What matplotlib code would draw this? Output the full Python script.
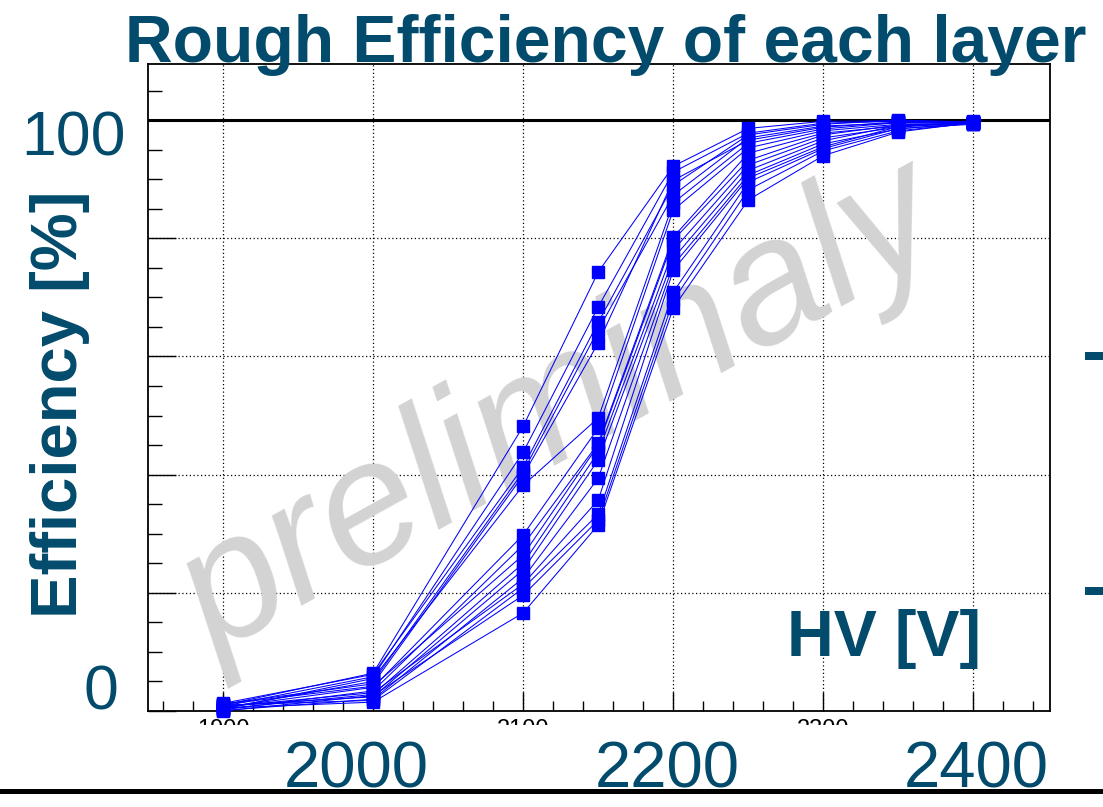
import matplotlib.pyplot as plt
from matplotlib.patches import Rectangle
from matplotlib.lines import Line2D
from matplotlib.ticker import MultipleLocator
from matplotlib.transforms import blended_transform_factory, offset_copy

plt.rcParams['font.family'] = ['Liberation Sans', 'DejaVu Sans']

W, H = 1103, 807
teal = '#034b6c'

# HV scan points [V]
hv = [1900, 2000, 2100, 2150, 2200, 2250, 2300, 2350, 2400]

# efficiency [%] of each layer at the HV points above
layer_eff = [
    [1.0, 6.4, 48.2, 74.3, 92.2, 98.6, 99.8, 99.9, 99.6],
    [0.8, 5.8, 43.8, 68.4, 91.2, 97.8, 99.5, 99.8, 99.5],
    [1.3, 6.2, 41.3, 65.8, 89.0, 97.5, 99.3, 100.0, 99.7],
    [0.5, 5.0, 40.5, 64.5, 87.3, 97.0, 99.0, 99.5, 99.6],
    [1.2, 4.6, 39.9, 62.3, 89.8, 96.6, 98.8, 99.7, 99.8],
    [0.3, 5.5, 38.2, 49.6, 86.0, 96.1, 98.5, 99.6, 99.5],
    [0.6, 4.0, 29.8, 47.9, 84.8, 95.3, 98.2, 99.3, 99.4],
    [0.2, 3.4, 28.1, 45.3, 80.2, 94.4, 97.8, 99.0, 99.6],
    [1.1, 4.2, 26.4, 45.0, 79.7, 93.2, 97.5, 99.2, 99.5],
    [0.4, 2.8, 25.0, 43.8, 78.0, 92.4, 97.0, 98.8, 99.7],
    [0.9, 2.4, 23.9, 42.5, 76.6, 91.5, 96.5, 99.1, 99.4],
    [0.1, 2.0, 22.5, 39.4, 75.5, 90.7, 96.0, 98.5, 99.6],
    [0.7, 3.1, 21.5, 35.7, 74.6, 90.2, 95.5, 98.9, 99.5],
    [1.0, 1.8, 20.8, 33.3, 70.9, 89.5, 95.2, 98.6, 99.3],
    [0.0, 2.6, 19.6, 32.3, 69.5, 88.2, 94.8, 98.2, 99.5],
    [0.5, 1.5, 16.6, 31.5, 68.2, 86.5, 94.0, 98.0, 99.6],
]

x_major = [1900, 2000, 2100, 2200, 2300, 2400]
x_labels = ['1900', '', '2100', '', '2300', '']
big_x = ['2000', '2200', '2400']


def fx(px):
    return px / W


def fy(py):
    return 1 - py / H


fig = plt.figure(figsize=(W / 100, H / 100), dpi=100)
ax = fig.add_axes([fx(148), fy(711), (1050 - 148) / W, (711 - 64) / H])

ax.set_xlim(1850, 2451)
ax.set_ylim(0, 109.5)

ax.set_xticks(x_major)
ax.set_xticklabels(x_labels)
ax.xaxis.set_minor_locator(MultipleLocator(20))
ax.set_yticks([0, 20, 40, 60, 80, 100])
ax.yaxis.set_minor_locator(MultipleLocator(5))
ax.set_yticklabels([])
ax.tick_params(which='both', direction='in', top=False, right=False, width=1.0)
ax.tick_params(axis='x', which='major', length=14, labelsize=17, pad=5.5)
ax.tick_params(axis='x', which='minor', length=7)
ax.tick_params(axis='y', which='major', length=20)
ax.tick_params(axis='y', which='minor', length=10)
for s in ax.spines.values():
    s.set_linewidth(1.3)

ax.set_axisbelow(True)
ax.grid(True, which='major', color='black', linestyle=(0, (1, 2)), lw=0.9)

ax.axhline(100, color='black', lw=2.2, zorder=1.5)

# watermark
ax.text(0.458, 0.462, 'preliminaly', transform=ax.transAxes, fontsize=127,
        style='italic', color='#d3d3d3', rotation=29, ha='center',
        va='center', zorder=1)

for eff in layer_eff:
    ax.plot(hv, eff, '-s', color='blue', lw=0.75, ms=8, mew=1,
            zorder=3, clip_on=False)

# slide overlay: white strip hiding the lower half of the ROOT x labels
fig.add_artist(Rectangle((0, 0), 1, fy(725), transform=fig.transFigure,
                         facecolor='white', edgecolor='none', zorder=5))
fig.add_artist(Line2D([0, 1], [fy(790.8), fy(790.8)], transform=fig.transFigure,
                      color='black', lw=3.6, zorder=6))
for yy in [352, 587]:
    fig.add_artist(Rectangle((fx(1085), fy(yy + 8)), fx(18), 8 / H,
                             transform=fig.transFigure, facecolor=teal,
                             edgecolor='none', zorder=6))

fig.text(fx(125), fy(62), 'Rough Efficiency of each layer', fontsize=47.5,
         fontweight='bold', color=teal, ha='left', va='baseline', zorder=10)
fig.text(fx(77), fy(404), 'Efficiency [%]', fontsize=47, fontweight='bold',
         color=teal, rotation=90, rotation_mode='anchor', ha='center',
         va='baseline', zorder=10)
fig.text(fx(787), fy(656), 'HV [V]', fontsize=46.5, fontweight='bold',
         color=teal, ha='left', va='baseline', zorder=10)
fig.text(fx(21), fy(155), '100', fontsize=45, color=teal, ha='left',
         va='baseline', zorder=10)
fig.text(fx(83), fy(710), '0', fontsize=45, color=teal, ha='left',
         va='baseline', zorder=10)

bt = blended_transform_factory(ax.transData, fig.transFigure)
for lab, off in zip(big_x, [-17, -6, 3]):
    tr = offset_copy(bt, fig=fig, x=off, y=0, units='dots')
    fig.text(float(lab), fy(787), lab, transform=tr, fontsize=47,
             color=teal, ha='center', va='baseline', zorder=10)

fig.savefig('out.png', dpi=100)
